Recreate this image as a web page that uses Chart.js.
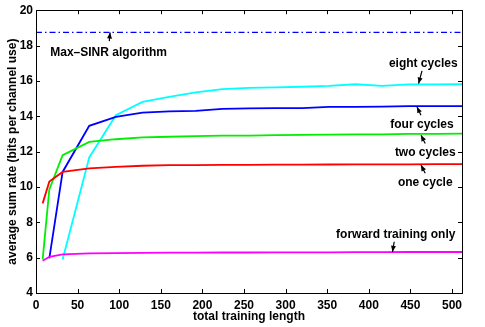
<!DOCTYPE html>
<html>
<head>
<meta charset="utf-8">
<script src="https://cdn.jsdelivr.net/npm/chart.js@4.4.1/dist/chart.umd.min.js"></script>
<style>
html,body{margin:0;padding:0;background:#fff;}
#wrap{position:relative;width:485px;height:327px;}
</style>
</head>
<body>
<div id="wrap"><canvas id="c" width="485" height="327"></canvas></div>
<script>
var trainLen=[8,16,32,64,96,128,160,192,224,256,288,320,352,384,416,448,480,512];
var fwdOnly =[5.83,6.05,6.19,6.24,6.26,6.27,6.28,6.28,6.29,6.29,6.30,6.30,6.30,6.31,6.31,6.32,6.32,6.32];
var oneCyc  =[9.07,10.30,10.85,11.05,11.14,11.20,11.23,11.24,11.25,11.25,11.26,11.26,11.27,11.28,11.28,11.28,11.29,11.29];
var twoCyc  =[5.90,9.86,11.80,12.55,12.70,12.80,12.84,12.87,12.90,12.90,12.93,12.95,12.96,12.97,12.98,13.00,13.00,13.02];
var fourCyc =[null,5.96,10.85,13.46,13.97,14.21,14.28,14.30,14.42,14.45,14.46,14.46,14.53,14.53,14.55,14.57,14.57,14.57];
var eightCyc=[null,null,5.90,11.67,14.06,14.81,15.10,15.35,15.53,15.60,15.63,15.67,15.72,15.81,15.72,15.80,15.80,15.81];
var maxSinrX=[0,512];
var maxSinrY=[18.75,18.75];
var xTicks=[0,50,100,150,200,250,300,350,400,450,500];
var yTicks=[4,6,8,10,12,14,16,18,20];

// annotation text + arrow (tail -> head), in data units
var notes=[
    {t:'Max\u2013SINR algorithm',x:87.2,y:17.62,ax:88.1,ay:18.25,hx:89,hy:18.74},
    {t:'eight cycles',x:465.4,y:16.95,ax:463.9,ay:16.57,hx:459.8,hy:15.85},
    {t:'four cycles',x:463.9,y:13.54,ax:462.7,ay:14.06,hx:457.9,hy:14.53},
    {t:'two cycles',x:467.8,y:11.93,ax:467.8,ay:12.46,hx:462.7,hy:12.93},
    {t:'one cycle',x:467.8,y:10.24,ax:467.8,ay:10.77,hx:462.7,hy:11.24},
    {t:'forward training only',x:432.4,y:7.32,ax:430.5,ay:6.9,hx:428.5,hy:6.33}
];

function pts(ys){
    var out=[];
    trainLen.forEach(function(x,i){ if(ys[i]!==null) out.push({x:x,y:ys[i]}); });
    return out;
}
function ds(lbl,ys,col){
    return {label:lbl,data:pts(ys),borderColor:col,backgroundColor:col,borderWidth:1.8,pointRadius:0,tension:0,fill:false};
}

var FONT='"Liberation Sans", Arial, Helvetica, sans-serif';

var boxPlugin={
    id:'box',
    afterDraw:function(chart){
        var ctx=chart.ctx, a=chart.chartArea, xs=chart.scales.x, ys=chart.scales.y;
        ctx.save();
        ctx.strokeStyle='#000';
        ctx.lineWidth=1;
        ctx.strokeRect(Math.round(a.left)+0.5,Math.round(a.top)+0.5,Math.round(a.right-a.left),Math.round(a.bottom-a.top));
        ctx.beginPath();
        xTicks.forEach(function(v){
            var px=Math.round(xs.getPixelForValue(v))+0.5;
            ctx.moveTo(px,a.bottom);ctx.lineTo(px,a.bottom-4);
            ctx.moveTo(px,a.top);ctx.lineTo(px,a.top+4);
        });
        yTicks.forEach(function(v){
            var py=Math.round(ys.getPixelForValue(v))+0.5;
            ctx.moveTo(a.left,py);ctx.lineTo(a.left+4,py);
            ctx.moveTo(a.right,py);ctx.lineTo(a.right-4,py);
        });
        ctx.stroke();
        // annotations
        ctx.fillStyle='#000';
        ctx.font='bold 12px '+FONT;
        ctx.textAlign='center';
        ctx.textBaseline='middle';
        notes.forEach(function(n){
            ctx.fillText(n.t,xs.getPixelForValue(n.x),ys.getPixelForValue(n.y));
            var x0=xs.getPixelForValue(n.ax),y0=ys.getPixelForValue(n.ay);
            var x1=xs.getPixelForValue(n.hx),y1=ys.getPixelForValue(n.hy);
            var ang=Math.atan2(y1-y0,x1-x0);
            ctx.beginPath();
            ctx.lineWidth=1.2;
            ctx.moveTo(x0,y0);ctx.lineTo(x1,y1);
            ctx.stroke();
            ctx.beginPath();
            ctx.moveTo(x1,y1);
            ctx.lineTo(x1-6*Math.cos(ang)+2.5*Math.sin(ang),y1-6*Math.sin(ang)-2.5*Math.cos(ang));
            ctx.lineTo(x1-6*Math.cos(ang)-2.5*Math.sin(ang),y1-6*Math.sin(ang)+2.5*Math.cos(ang));
            ctx.closePath();
            ctx.fill();
        });
        ctx.restore();
    }
};

var sinr={label:'Max-SINR',data:maxSinrX.map(function(x,i){return {x:x,y:maxSinrY[i]};}),borderColor:'#0000ff',borderWidth:1.3,borderDash:[6,3,1.5,3],pointRadius:0,fill:false};

new Chart(document.getElementById('c').getContext('2d'),{
    type:'line',
    data:{datasets:[
        sinr,
        ds('forward training only',fwdOnly,'#ff00ff'),
        ds('one cycle',oneCyc,'#ff0000'),
        ds('two cycles',twoCyc,'#00ee00'),
        ds('four cycles',fourCyc,'#0000ff'),
        ds('eight cycles',eightCyc,'#00ffff')
    ]},
    options:{
        responsive:false,animation:false,
        layout:{padding:{top:10,right:23,left:0,bottom:0}},
        plugins:{legend:{display:false},tooltip:{enabled:false}},
        scales:{
            x:{type:'linear',min:0,max:512,
                afterFit:function(s){s.height=34;},
                afterBuildTicks:function(s){s.ticks=xTicks.map(function(v){return {value:v};});},
                grid:{display:false,drawTicks:false,tickLength:0},border:{display:false},
                ticks:{color:'#000',padding:5,maxRotation:0,font:{family:FONT,size:12,weight:'bold'}},
                title:{display:true,text:'total training length',color:'#000',padding:{top:0,bottom:3},font:{family:FONT,size:12,weight:'bold'}}
            },
            y:{type:'linear',min:4,max:20,
                afterFit:function(s){s.width=36;},
                afterBuildTicks:function(s){s.ticks=yTicks.map(function(v){return {value:v};});},
                grid:{display:false,drawTicks:false,tickLength:0},border:{display:false},
                ticks:{color:'#000',padding:3,font:{family:FONT,size:12,weight:'bold'}},
                title:{display:true,text:'average sum rate (bits per channel use)',color:'#000',padding:{top:5,bottom:0},font:{family:FONT,size:12,weight:'bold'}}
            }
        }
    },
    plugins:[boxPlugin]
});
</script>
</body>
</html>
